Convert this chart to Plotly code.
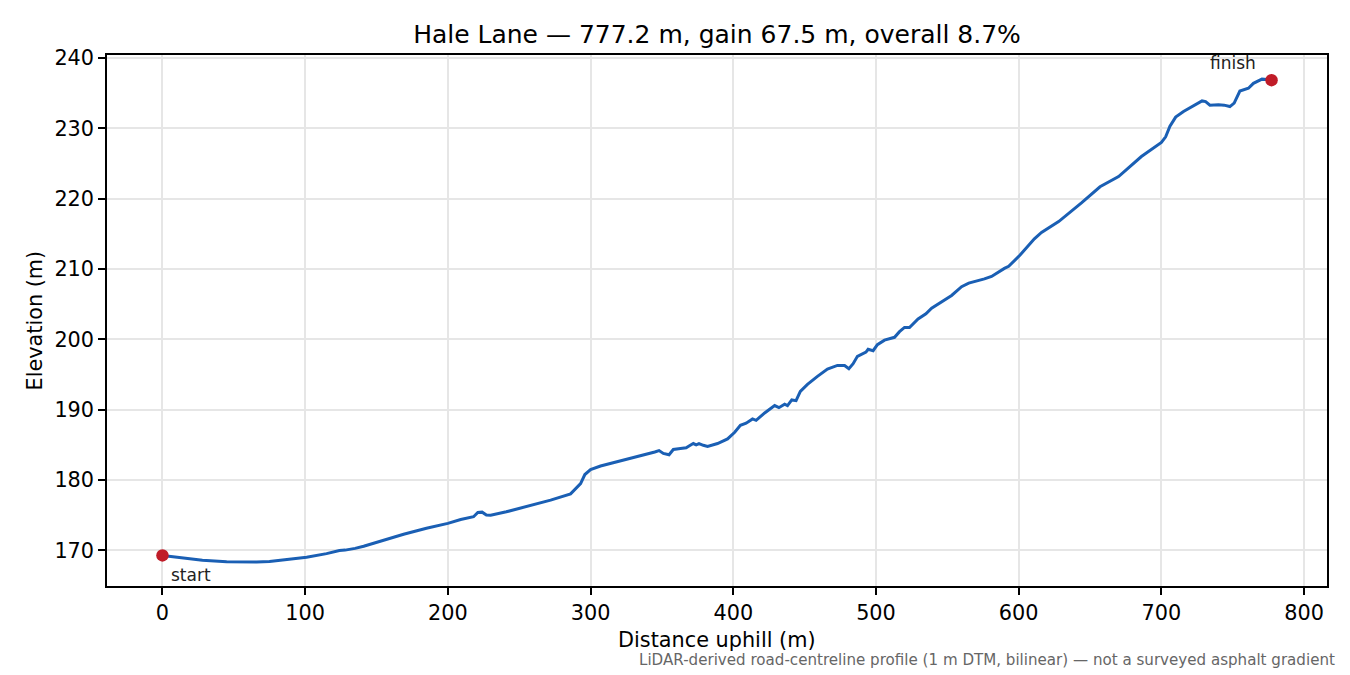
import plotly.graph_objects as go

distance_m = [0, 7, 14, 28, 45, 55, 66, 75, 85, 101, 115, 124, 128, 131, 135, 141, 155, 169, 185, 200,
              209, 216, 218, 221, 224, 227, 230, 241, 255, 257, 272, 286, 290, 293, 296, 300, 307, 323,
              337, 345, 348, 351, 355, 358, 363, 367, 369, 372, 374, 376, 379, 382, 389, 396, 401, 405,
              409, 413.5, 416, 422, 429, 432, 436, 438, 441, 444, 447, 452, 459, 466, 473, 478, 481, 484,
              487, 493, 494.5, 498, 501, 506, 513, 516.5, 520, 523.5, 529.5, 535, 539, 546, 553, 560, 565,
              576, 581, 590, 593, 601, 611, 616, 628, 644, 657, 670, 686, 700, 703, 706, 710, 715.5, 722,
              728.5, 731, 734, 740, 744, 748, 751, 755, 761, 764.5, 770.5, 774, 777.2]
elevation_m = [169.3, 169.15, 168.95, 168.6, 168.38, 168.35, 168.35, 168.45, 168.65, 169.05, 169.55, 170.0,
               170.05, 170.15, 170.3, 170.6, 171.5, 172.3, 173.15, 173.85, 174.4, 174.75, 174.8, 175.4,
               175.45, 175.05, 175.0, 175.5, 176.2, 176.4, 177.15, 178.05, 178.8, 179.5, 180.8, 181.5,
               182.0, 182.8, 183.5, 184.0, 184.2, 183.8, 183.6, 184.35, 184.5, 184.6, 184.85, 185.2, 185.0,
               185.2, 184.95, 184.8, 185.2, 185.85, 186.8, 187.8, 188.1, 188.7, 188.5, 189.55, 190.6, 190.3,
               190.8, 190.6, 191.4, 191.3, 192.6, 193.6, 194.75, 195.8, 196.3, 196.3, 195.85, 196.55, 197.6,
               198.2, 198.6, 198.4, 199.25, 199.9, 200.3, 201.1, 201.7, 201.7, 202.9, 203.65, 204.45, 205.3,
               206.25, 207.5, 208.0, 208.6, 208.95, 210.1, 210.4, 212.0, 214.3, 215.2, 216.75, 219.4, 221.7,
               223.15, 226.0, 228.0, 228.8, 230.3, 231.6, 232.4, 233.1, 233.9, 233.8, 233.3, 233.35, 233.3,
               233.1, 233.6, 235.3, 235.7, 236.4, 237.0, 236.95, 236.85]

title_text = "Hale Lane — 777.2 m, gain 67.5 m, overall 8.7%"
x_label = "Distance uphill (m)"
y_label = "Elevation (m)"
footnote = "LiDAR-derived road-centreline profile (1 m DTM, bilinear) — not a surveyed asphalt gradient"
x_ticks = [0, 100, 200, 300, 400, 500, 600, 700, 800]
y_ticks = [170, 180, 190, 200, 210, 220, 230, 240]

FONT = "DejaVu Sans"
LINE_COLOR = "#1a5fb4"
DOT_COLOR = "#c01c28"
OFF = 8  # page body margin

fig = go.Figure()
fig.add_trace(go.Scatter(x=distance_m, y=elevation_m, mode="lines",
                         line=dict(color=LINE_COLOR, width=3), showlegend=False))
fig.add_trace(go.Scatter(x=[distance_m[0], distance_m[-1]], y=[elevation_m[0], elevation_m[-1]],
                         mode="markers", marker=dict(color=DOT_COLOR, size=12.5), showlegend=False))

axis_common = dict(showline=True, linecolor="black", linewidth=1.5, mirror=True,
                   ticks="outside", ticklen=7, tickwidth=1.5, tickcolor="black",
                   showgrid=True, gridcolor="#e6e6e6", gridwidth=1.5, zeroline=False,
                   tickfont=dict(family=FONT, size=20.8, color="black"))

fig.update_xaxes(range=[-38.86, 816.06], tickvals=x_ticks, **axis_common)
fig.update_yaxes(range=[164.95, 240.43], tickvals=y_ticks, **axis_common)

W, H = 1350 - OFF, 675 - OFF
fig.update_layout(
    width=W, height=H,
    margin=dict(l=107 - OFF, r=23, t=55 - OFF, b=89),
    paper_bgcolor="white", plot_bgcolor="white",
    font=dict(family=FONT, color="black"),
    title=dict(text=title_text, font=dict(family=FONT, size=25, color="black"),
               x=0.5, xref="paper", xanchor="center",
               y=1 - (34 - OFF) / H, yref="container", yanchor="middle"),
    annotations=[
        dict(text=x_label, xref="paper", yref="paper", x=0.5, y=-(640 - 586) / 531,
             xanchor="center", yanchor="middle", showarrow=False,
             font=dict(family=FONT, size=20.8, color="black")),
        dict(text=y_label, xref="paper", yref="paper", x=(34 - 107) / 1220, y=0.5,
             xanchor="center", yanchor="middle", showarrow=False, textangle=-90,
             font=dict(family=FONT, size=20.8, color="black")),
        dict(text=footnote, xref="paper", yref="paper", x=(1337 - 107) / 1220, y=-(660 - 586) / 531,
             xanchor="right", yanchor="middle", showarrow=False,
             font=dict(family=FONT, size=15.1, color="#666666")),
        dict(text="start", x=distance_m[0], y=elevation_m[0], xref="x", yref="y",
             xanchor="left", yanchor="middle", xshift=7, yshift=-20, showarrow=False,
             font=dict(family=FONT, size=17, color="#222222")),
        dict(text="finish", x=distance_m[-1], y=elevation_m[-1], xref="x", yref="y",
             xanchor="right", yanchor="middle", xshift=-14, yshift=17, showarrow=False,
             font=dict(family=FONT, size=17, color="#222222")),
    ],
)

fig.write_html("out.html")
